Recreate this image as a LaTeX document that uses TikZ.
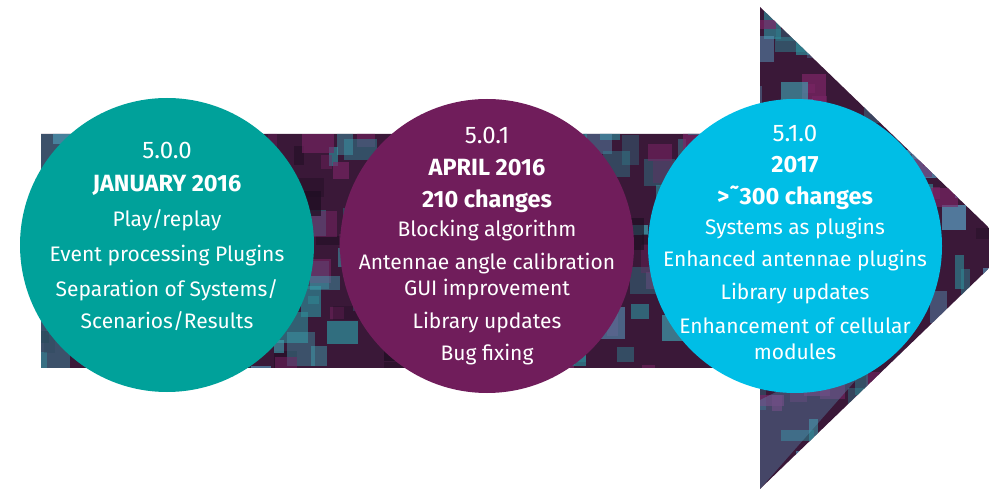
\documentclass[tikz,border=0pt]{standalone}
\usepackage{fontspec}
\setmainfont{Fira Sans}
\definecolor{cTeal}{HTML}{00A19A}
\definecolor{cPurple}{HTML}{701D5B}
\definecolor{cCyan}{HTML}{00BEE6}
\definecolor{bgDark}{HTML}{3A1838}
\definecolor{tA}{HTML}{2E8C98}
\definecolor{tB}{HTML}{5A9CC0}
\definecolor{tC}{HTML}{7C2566}
\definecolor{tD}{HTML}{1E0E22}
\definecolor{tE}{HTML}{3FA7B5}
\pgfmathdeclarerandomlist{cols}{{tA}{tB}{tC}{tD}{tE}{tC}{tA}}
\tikzset{
  disc/.style={circle, minimum size=294pt, inner sep=0pt},
  lbl/.style={text=white, font=\fontsize{21}{22}\selectfont, inner sep=0pt, anchor=center},
  lblv/.style={lbl, font=\fontsize{24}{26}\selectfont},
  lblb/.style={lbl, font=\fontsize{23.5}{26}\selectfont\bfseries},
}
\begin{document}
\begin{tikzpicture}[x=1pt,y=-1pt]
\useasboundingbox (0,0) rectangle (989,489);
\begin{scope}
  \clip (41,134) -- (760,134) -- (760,7) -- (1010,248) -- (760,489) -- (760,368) -- (41,368) -- cycle;
  \fill[bgDark] (0,0) rectangle (1010,489);
  \pgfmathsetseed{7}
  \foreach \i in {1,...,650}{
    \pgfmathsetmacro{\rx}{30+rnd*980}
    \pgfmathsetmacro{\ry}{rnd*489}
    \pgfmathsetmacro{\rw}{8+rnd*26}
    \pgfmathsetmacro{\rh}{8+rnd*26}
    \pgfmathsetmacro{\op}{0.3+rnd*0.45}
    \pgfmathrandomitem{\cl}{cols}
    \fill[\cl, opacity=\op] (\rx,\ry) rectangle ++(\rw,\rh);
  }
  \fill[tB, opacity=0.35] (760,400) -- (900,330) -- (760,489) -- cycle;
  \fill[tE, opacity=0.4] (41,134) rectangle (70,368);
\end{scope}

\node[disc, fill=cTeal] (c1) at (167,245) {};
\node[disc, fill=cPurple] (c2) at (487,246) {};
\node[disc, fill=cCyan] (c3) at (795,246) {};

% circle 1
\node[lblv] (a1) at (167,150) {5.0.0};
\node[lblb] (a2) at (167,185) {JANUARY 2016};
\node[lbl]  (a3) at (167,220) {Play/replay};
\node[lbl]  (a4) at (167,256) {Event processing Plugins};
\node[lbl]  (a5) at (167,290) {Separation of Systems/};
\node[lbl]  (a6) at (167,321) {Scenarios/Results};

% circle 2
\node[lblv] (b1) at (487,135) {5.0.1};
\node[lblb] (b2) at (487,168) {APRIL 2016};
\node[lblb] (b3) at (487,201) {210 changes};
\node[lbl]  (b4) at (487,231) {Blocking algorithm};
\node[lbl]  (b5) at (487,264) {Antennae angle calibration};
\node[lbl]  (b6) at (487,290) {GUI improvement};
\node[lbl]  (b7) at (487,323) {Library updates};
\node[lbl]  (b8) at (487,355) {Bug fixing};

% circle 3
\node[lblv] (d1) at (795,133) {5.1.0};
\node[lblb] (d2) at (795,165) {2017};
\node[lblb] (d3) at (795,198) {>˜300 changes};
\node[lbl]  (d4) at (795,229) {Systems as plugins};
\node[lbl]  (d5) at (795,261) {Enhanced antennae plugins};
\node[lbl]  (d6) at (795,294) {Library updates};
\node[lbl]  (d7) at (795,326) {Enhancement of cellular};
\node[lbl]  (d8) at (795,352) {modules};
\end{tikzpicture}
\end{document}
